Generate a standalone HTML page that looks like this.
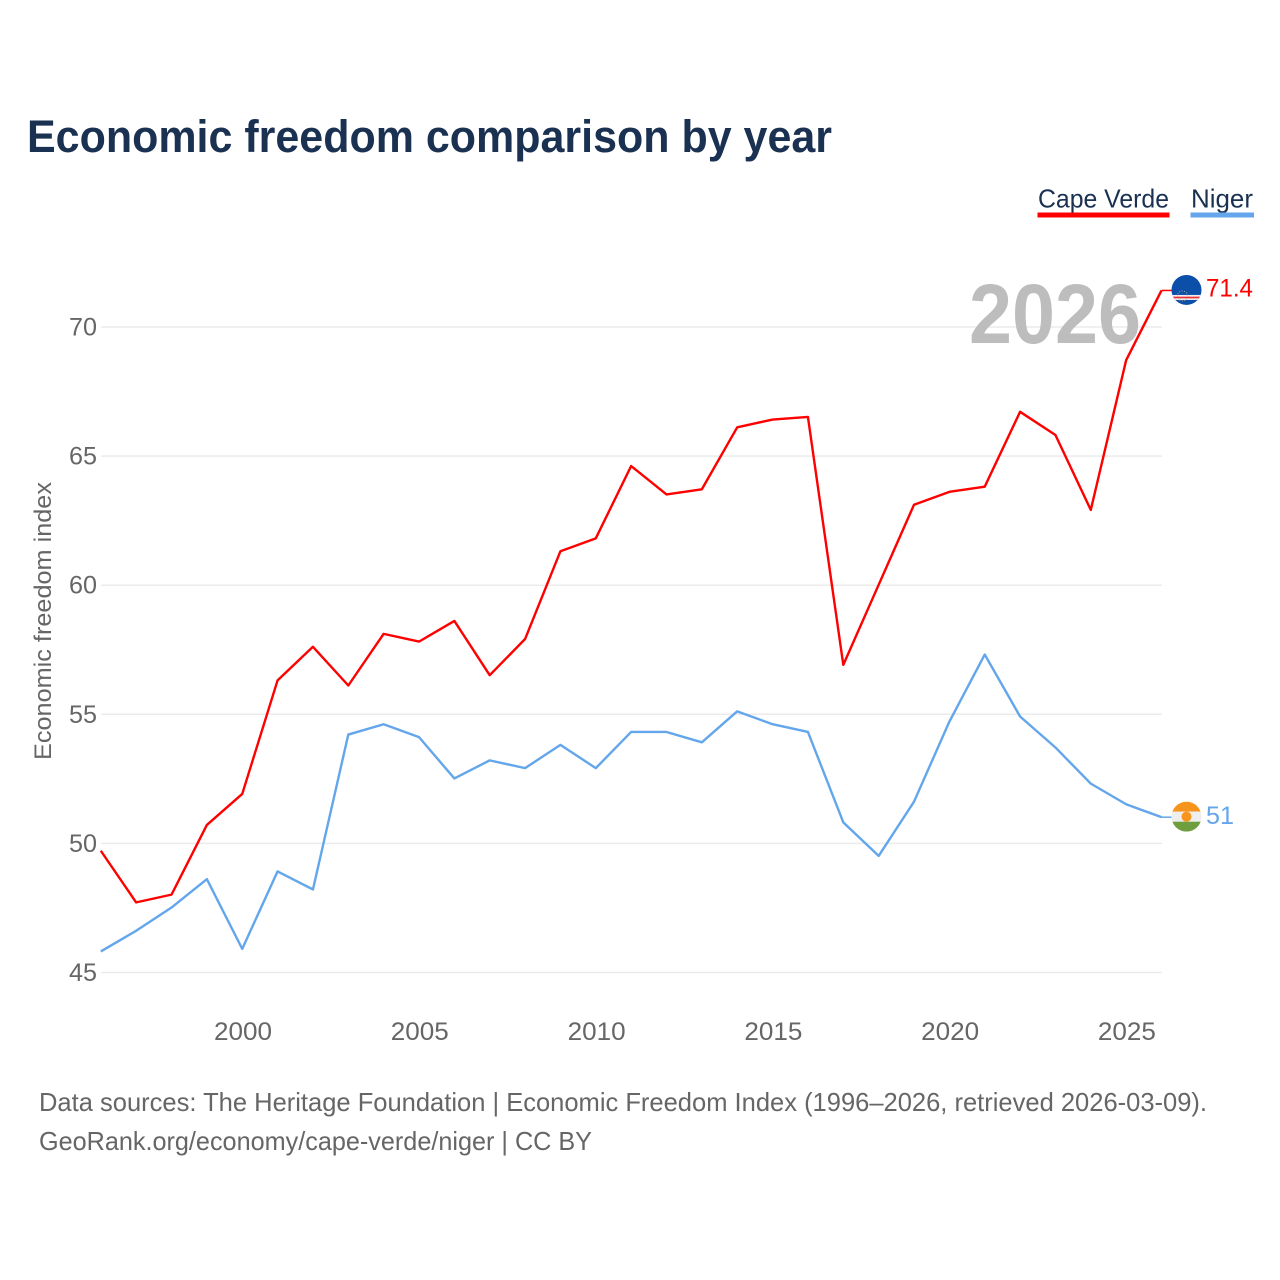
<!DOCTYPE html>
<html lang="en">
<head>
<meta charset="utf-8">
<title>Economic freedom comparison by year</title>
<style>
html,body{margin:0;padding:0;background:#fff;}
svg{display:block;font-family:"Liberation Sans",sans-serif;}
</style>
</head>
<body>
<svg id="chart" width="1280" height="1280" viewBox="0 0 1280 1280" xmlns="http://www.w3.org/2000/svg">
<defs>
<clipPath id="clip-cv"><circle cx="0" cy="0" r="15"></circle></clipPath>
<clipPath id="clip-ne"><circle cx="0" cy="0" r="15"></circle></clipPath>
</defs>
<rect x="0" y="0" width="1280" height="1280" fill="#ffffff"></rect>
<text x="27" y="152" font-size="45" font-weight="700" fill="#1a3152" textLength="805" lengthAdjust="spacingAndGlyphs">Economic freedom comparison by year</text>
<g>
<g>
<text x="1038" y="207.500" font-size="26" fill="#1a3152" textLength="131" lengthAdjust="spacingAndGlyphs">Cape Verde</text>
<rect x="1037.500" y="212.500" width="132" height="5" fill="#ff0000"></rect>
</g>
<g>
<text x="1191" y="207.500" font-size="26" fill="#1a3152" textLength="62" lengthAdjust="spacingAndGlyphs">Niger</text>
<rect x="1190.500" y="212.500" width="63.500" height="5" fill="#63a6eb"></rect>
</g>
</g>
<g id="grid"></g>
<g id="yticks"></g>
<g id="xticks"></g>
<text transform="translate(51,760) rotate(-90)" x="0" y="0" font-size="24" fill="#666666" textLength="278" lengthAdjust="spacingAndGlyphs">Economic freedom index</text>
<text x="969" y="343" font-size="84" font-weight="700" fill="#bdbdbd" textLength="172" lengthAdjust="spacingAndGlyphs">2026</text>
<g id="series"></g>
<g id="endcaps"></g>
<g>
<text x="39" y="1111" font-size="26" fill="#666666" textLength="1168" lengthAdjust="spacingAndGlyphs">Data sources: The Heritage Foundation | Economic Freedom Index (1996–2026, retrieved 2026-03-09).</text>
<text x="39" y="1150" font-size="26" fill="#666666" textLength="553" lengthAdjust="spacingAndGlyphs">GeoRank.org/economy/cape-verde/niger | CC BY</text>
</g>
</svg>
<script>
const years = [1996,1997,1998,1999,2000,2001,2002,2003,2004,2005,2006,2007,2008,2009,2010,2011,2012,2013,2014,2015,2016,2017,2018,2019,2020,2021,2022,2023,2024,2025,2026];
const capeVerde = [49.7,47.7,48.0,50.7,51.9,56.3,57.6,56.1,58.1,57.8,58.6,56.5,57.9,61.3,61.8,64.6,63.5,63.7,66.1,66.4,66.5,56.9,60.0,63.1,63.6,63.8,66.7,65.8,62.9,68.7,71.4];
const niger = [45.8,46.6,47.5,48.6,45.9,48.9,48.2,54.2,54.6,54.1,52.5,53.2,52.9,53.8,52.9,54.3,54.3,53.9,55.1,54.6,54.3,50.8,49.5,51.6,54.7,57.3,54.9,53.7,52.3,51.5,51.0];
const yTickValues = [45,50,55,60,65,70];
const xTickValues = [2000,2005,2010,2015,2020,2025];

const NS = 'http://www.w3.org/2000/svg';
function xScale(year){ return 100.8 + (year - 1996) * (1161.5 - 100.8) / 30; }
function yScale(v){ return 972.1 - (v - 45) * (972.1 - 326.6) / 25; }
function make(tag, attrs, parent, text){
  const el = document.createElementNS(NS, tag);
  for (const k in attrs) el.setAttribute(k, attrs[k]);
  if (text !== undefined) el.textContent = text;
  parent.appendChild(el);
  return el;
}
const grid = document.getElementById('grid');
const yticks = document.getElementById('yticks');
const xticks = document.getElementById('xticks');
const series = document.getElementById('series');
const endcaps = document.getElementById('endcaps');

yTickValues.forEach(function(v){
  const gy = yScale(v) + 0.4;
  const line = make('line', {x1:101, x2:1162, y1:gy, y2:gy, stroke:'#ebebeb', 'stroke-width':1.5}, grid);
  
  
  const label = make('text', {x:97, y:gy+8.5, 'text-anchor':'end', 'font-size':25, fill:'#666666', textLength:28, lengthAdjust:'spacingAndGlyphs'}, yticks, String(v));
  
  
});
xTickValues.forEach(function(y){
  const label = make('text', {x:xScale(y)+0.8, y:1040, 'text-anchor':'middle', 'font-size':25, fill:'#666666', textLength:58, lengthAdjust:'spacingAndGlyphs'}, xticks, String(y));
  
  
});

function pointsFor(vals){
  return vals.map(function(v,i){ return xScale(years[i]).toFixed(2) + ',' + yScale(v).toFixed(2); }).join(' ');
}
const lineCv = make('polyline', {points:pointsFor(capeVerde), fill:'none', stroke:'#ff0000', 'stroke-width':2.4, 'stroke-linejoin':'round'}, series);


const lineNe = make('polyline', {points:pointsFor(niger), fill:'none', stroke:'#63a6eb', 'stroke-width':2.4, 'stroke-linejoin':'round'}, series);



const lastCv = capeVerde[capeVerde.length-1];
const lastNe = niger[niger.length-1];
const endX = xScale(years[years.length-1]);

const connCv = make('line', {x1:endX, x2:endX+10, y1:yScale(lastCv), y2:yScale(lastCv), stroke:'#ff0000', 'stroke-width':1.5}, endcaps);


const connNe = make('line', {x1:endX, x2:endX+10, y1:yScale(lastNe), y2:yScale(lastNe), stroke:'#63a6eb', 'stroke-width':1.5}, endcaps);



const flagCv = make('g', {transform:'translate(' + (endX+25) + ',' + (yScale(lastCv)-0.5) + ')', 'clip-path':'url(#clip-cv)'}, endcaps);


make('rect', {x:-15, y:-15, width:30, height:30, fill:'#0b4fa8'}, flagCv);
make('rect', {x:-15, y:5, width:30, height:5, fill:'#f4eef0'}, flagCv);
make('rect', {x:-15, y:6.700, width:30, height:1.700, fill:'#e8303a'}, flagCv);
make('circle', {cx:-4, cy:6, r:5, fill:'none', stroke:'#c9b98a', 'stroke-width':0.8, 'stroke-dasharray':'1 1.5'}, flagCv);

const flagNe = make('g', {transform:'translate(' + (endX+25) + ',' + (yScale(lastNe)-0.5) + ')', 'clip-path':'url(#clip-ne)'}, endcaps);


make('rect', {x:-15, y:-15, width:30, height:10, fill:'#f7941d'}, flagNe);
make('rect', {x:-15, y:-5, width:30, height:10, fill:'#eeeeee'}, flagNe);
make('rect', {x:-15, y:5, width:30, height:10, fill:'#6f9e3f'}, flagNe);
make('circle', {cx:0, cy:0, r:5, fill:'#f7941d'}, flagNe);

const valCv = make('text', {x:1206, y:yScale(lastCv)+6, 'font-size':25, fill:'#ff0000', textLength:47, lengthAdjust:'spacingAndGlyphs'}, endcaps, String(lastCv));


const valNe = make('text', {x:1206, y:yScale(lastNe)+7, 'font-size':25, fill:'#63a6eb', textLength:28, lengthAdjust:'spacingAndGlyphs'}, endcaps, String(lastNe));


</script>
</body>
</html>
